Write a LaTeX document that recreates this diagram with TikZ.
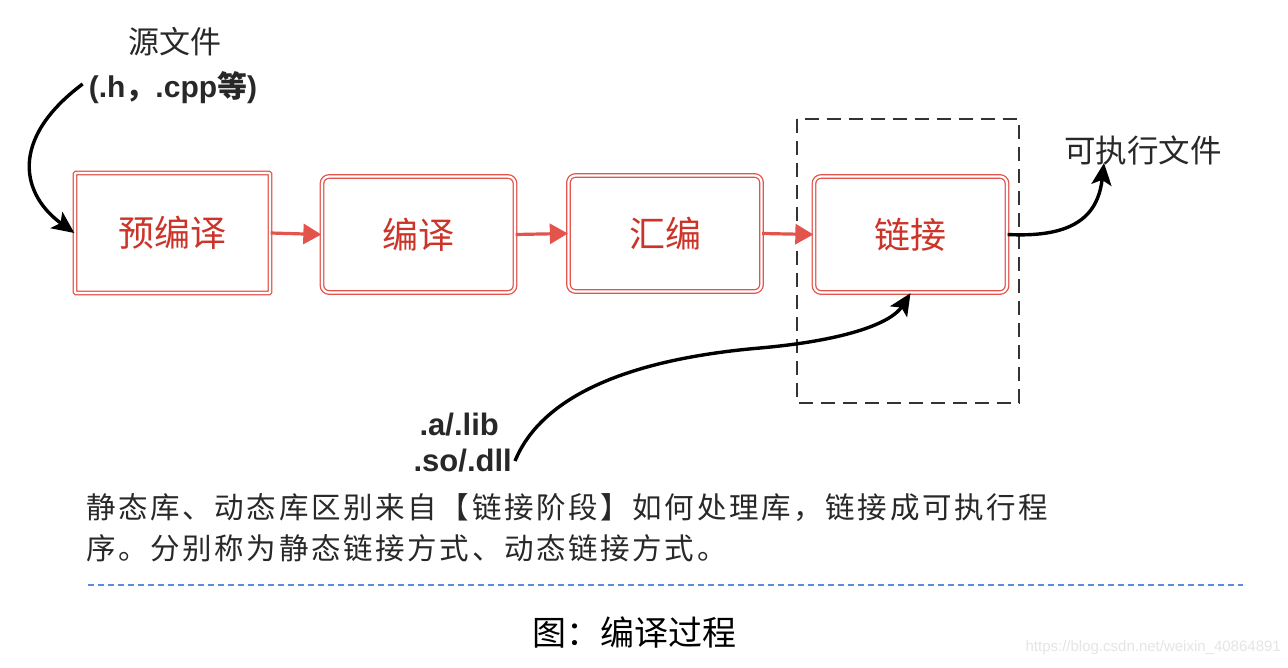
\documentclass[tikz,border=0pt]{standalone}
\usepackage{fontspec}
\setmainfont{Noto Sans CJK SC}
\newfontfamily\lat{Liberation Sans}
\newfontfamily\cjk{Noto Sans CJK SC}
\newfontfamily\cjksp[LetterSpace=9]{Noto Sans CJK SC}
\usetikzlibrary{arrows.meta}
\definecolor{boxred}{RGB}{226,84,76}
\definecolor{txtred}{RGB}{204,52,42}
\definecolor{dashblue}{RGB}{92,140,226}
\definecolor{txtgray}{RGB}{40,40,40}
\tikzset{
  stagebox/.style={draw=boxred, double=white, double distance=2.2pt, line width=1.3pt,
    rounded corners=7pt, minimum width=193pt, minimum height=116pt, inner sep=0pt,
    text=txtred, font=\cjk\fontsize{36}{42}\selectfont},
  redarrow/.style={draw=boxred, line width=3.2pt, -{Triangle[length=18pt,width=20pt]}},
  blackarrow/.style={draw=black, line width=3.4pt, -{Stealth[length=22pt,width=20pt,inset=5pt]}},
  lbl/.style={inner sep=0pt, text=txtgray},
}
\begin{document}
\begin{tikzpicture}[x=1pt,y=-1pt]
\path[use as bounding box, fill=white] (0,0) rectangle (1288,668);

% dashed linking frame
\draw[draw=black!80, line width=1.8pt, dash pattern=on 14pt off 8pt] (797,119) rectangle (1019,403);

% stages
\node[stagebox, rounded corners=1pt, minimum width=195pt, minimum height=120pt] (pre) at (172.5,233) {预编译};
\node[stagebox] (comp) at (418.5,234.5) {编译};
\node[stagebox] (asm) at (665,233.5) {汇编};
\node[stagebox] (link) at (910.5,234.5) {链接};

\draw[redarrow] (pre.east) -- (comp.west);
\draw[redarrow] (comp.east) -- (asm.west);
\draw[redarrow] (asm.east) -- (link.west);

% texts
\node[lbl, font=\cjk\fontsize{31}{36}\selectfont] (src) at (175,42) {源文件};
\node[lbl, font=\fontsize{30}{36}\selectfont] (src2) at (173,88) {\lat\bfseries(.h\cjk\bfseries，\lat\bfseries.cpp\cjk\bfseries 等\lat\bfseries)};
\node[lbl, font=\cjk\fontsize{31.5}{36}\selectfont, anchor=west] (exe) at (1064,150) {可执行文件};
\node[lbl, font=\lat\bfseries\fontsize{31}{36}\selectfont, anchor=east] (liba) at (499,425) {.a/.lib};
\node[lbl, font=\lat\bfseries\fontsize{31}{36}\selectfont, anchor=east] (libso) at (512,461) {.so/.dll};
\coordinate (exein) at (1104,163);

% black connectors
\draw[blackarrow] ([xshift=-6pt,yshift=4pt]src2.west) .. controls (8,140) and (22,195) .. (pre.west);
\draw[blackarrow] (link.east) .. controls (1075,238) and (1098,215) .. (exein);
\draw[blackarrow] ([xshift=3pt]libso.east) .. controls (540,400) and (620,360) .. (760,348)
   .. controls (850,340) and (892,322) .. (link.south);

% paragraph
\node[lbl, anchor=west, font=\cjksp\fontsize{29.5}{34}\selectfont] (p1) at (86,508)
  {静态库、动态库区别来自【链接阶段】如何处理库，链接成可执行程};
\node[lbl, anchor=west, font=\cjksp\fontsize{29.5}{34}\selectfont] (p2) at (86,548)
  {序。分别称为静态链接方式、动态链接方式。};

% separator
\draw[dashblue, line width=1.5pt, dash pattern=on 6pt off 4pt] (88,585) -- (1243,585);

% caption
\node[lbl, font=\cjk\fontsize{34}{40}\selectfont, text=black] (cap) at (634,633) {图：编译过程};

% watermark
\node[inner sep=0pt, anchor=east, text=black!10, font=\lat\fontsize{15}{18}\selectfont] (wm) at (1281,648) {https://blog.csdn.net/weixin\_40864891};
\end{tikzpicture}
\end{document}
